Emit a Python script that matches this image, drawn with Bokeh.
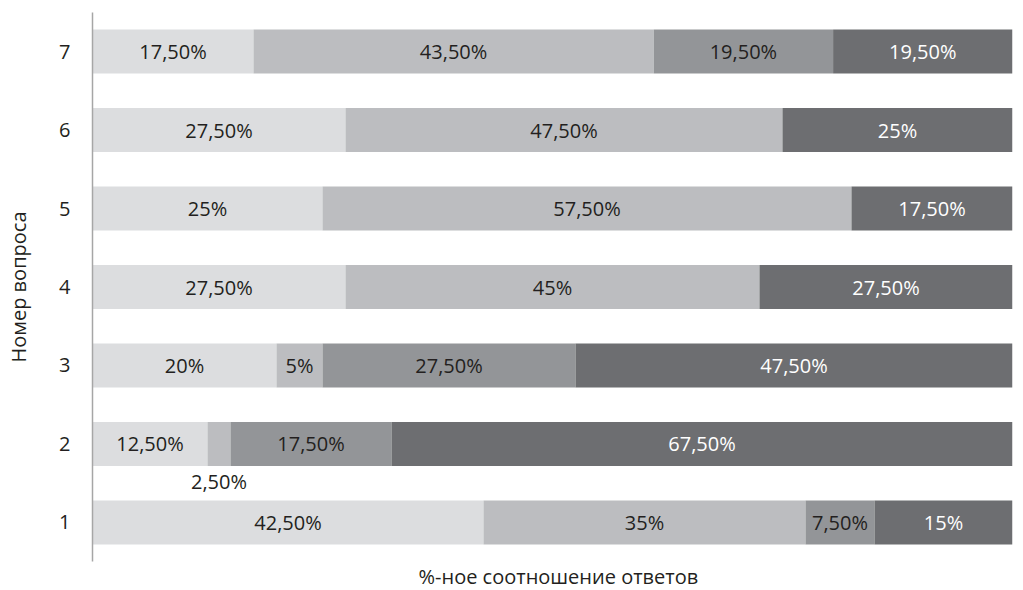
import numpy as np
from bokeh.plotting import figure
from bokeh.models import ColumnDataSource, Range1d, FixedTicker, Title
from bokeh.embed import file_html
from bokeh.resources import INLINE
from bokeh.core.properties import value

questions = ["1", "2", "3", "4", "5", "6", "7"]
series_a = [42.5, 12.5, 20.0, 27.5, 25.0, 27.5, 17.5]
series_b = [35.0, 2.5, 5.0, 45.0, 57.5, 47.5, 43.5]
series_c = [7.5, 17.5, 27.5, 0.0, 0.0, 0.0, 19.5]
series_d = [15.0, 67.5, 47.5, 27.5, 17.5, 25.0, 19.5]

colors = ["#dcdddf", "#bcbdc0", "#939598", "#6d6e71"]
text_colors = ["#231f20", "#231f20", "#231f20", "#ffffff"]
FONT = "Open Sans"
FS = "20px"

ypos = list(range(1, len(questions) + 1))
names = ["a", "b", "c", "d"]
src = ColumnDataSource(dict(y=ypos, a=series_a, b=series_b, c=series_c, d=series_d))

p = figure(width=1015, height=590, output_backend="svg", toolbar_location=None,
           x_range=Range1d(0, 100), y_range=Range1d(0.502, 7.498),
           min_border_left=92, min_border_right=3, min_border_top=12, min_border_bottom=25)
p.outline_line_color = None
p.grid.visible = False
p.xaxis.visible = False

p.hbar_stack(names, y="y", height=0.56, color=colors, line_color=None, source=src)

# labels
vals = np.array([series_a, series_b, series_c, series_d])
left = np.vstack([np.zeros(len(questions)), np.cumsum(vals, axis=0)[:-1]])
lx, ly, lt, lc, lo = [], [], [], [], []
for s in range(vals.shape[0]):
    for i in range(vals.shape[1]):
        v = vals[s, i]
        if v <= 0:
            continue
        txt = (f"{int(v)}%" if float(v).is_integer() else f"{v:.2f}".replace(".", ",") + "%")
        lx.append(left[s, i] + v / 2)
        ly.append(ypos[i])
        lt.append(txt)
        small = v < 4
        lc.append("#231f20" if small else text_colors[s])
        lo.append(38 if small else 0)
lsrc = ColumnDataSource(dict(x=lx, y=ly, t=lt, c=lc, o=lo))
p.text(x="x", y="y", text="t", text_color="c", y_offset="o", source=lsrc,
       text_align="center", text_baseline="middle",
       text_font=value(FONT), text_font_size=FS)

ax = p.yaxis[0]
ax.ticker = FixedTicker(ticks=ypos)
ax.major_label_overrides = {y: q for y, q in zip(ypos, questions)}
ax.major_tick_line_color = None
ax.minor_tick_line_color = None
ax.major_tick_out = 0
ax.major_tick_in = 0
ax.axis_line_color = "#a6a6a6"
ax.axis_line_width = 1.5
ax.major_label_standoff = 22
ax.major_label_text_font = FONT
ax.major_label_text_font_size = FS
ax.major_label_text_color = "#231f20"
ax.axis_label = "Номер вопроса"
ax.axis_label_text_font = FONT
ax.axis_label_text_font_style = "normal"
ax.axis_label_text_font_size = FS
ax.axis_label_text_color = "#231f20"
ax.axis_label_standoff = 24

p.add_layout(Title(text="%-ное соотношение ответов", align="left", offset=326,
                   vertical_align="middle", standoff=0,
                   text_font=FONT, text_font_size=FS, text_font_style="normal",
                   text_color="#231f20"), "below")

open("out.html", "w").write(file_html(p, INLINE))
